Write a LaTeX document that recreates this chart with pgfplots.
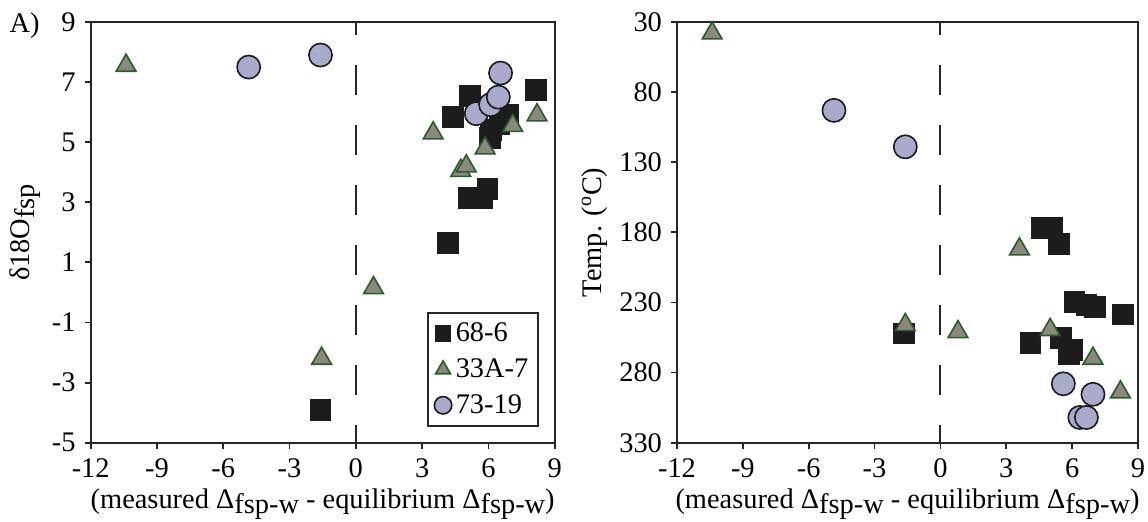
\documentclass[border=0pt]{standalone}
\usepackage{pgfplots}
\pgfplotsset{compat=1.18}
\usepackage{fontspec}
\setmainfont{Liberation Serif}
\definecolor{sqc}{HTML}{1C1C1C}
\definecolor{trifill}{HTML}{8A8A7C}
\definecolor{triedge}{HTML}{2C5A2C}
\definecolor{circfill}{HTML}{A9AACC}
\definecolor{circedge}{HTML}{1A1A1A}
\definecolor{axc}{HTML}{262626}
\newcommand{\fs}{\fontsize{14.2}{16.5}\selectfont}
\newcommand{\sub}[1]{\raisebox{-2.4pt}{#1}}
\pgfplotsset{
  myaxis/.style={
    scale only axis,
    height=210.35pt,
    xmin=-12, xmax=9, xtick={-12,-9,...,9},
    tick align=outside, xtick pos=left, ytick pos=left,
    major tick length=3pt,
    axis line style={line width=1pt, axc},
    every tick/.style={line width=0.9pt, axc},
    tick label style={font=\fs},
    xticklabel style={yshift=-1.5pt},
    yticklabel style={xshift=-1pt},
    label style={font=\fs},
    /pgf/number format/assume math mode=true,
    xlabel={(measured Δ\sub{fsp-w} - equilibrium Δ\sub{fsp-w})},
    xlabel style={yshift=1.5pt},
    clip=false,
  },
  sq/.style={only marks, mark=square*, mark size=5.2pt, mark options={fill=sqc, draw=sqc, line width=0.4pt}},
  tri/.style={only marks, mark=triangle*, mark size=5.7pt, mark options={fill=trifill, draw=triedge, line width=0.8pt}},
  circ/.style={only marks, mark=*, mark size=5.8pt, mark options={fill=circfill, draw=circedge, line width=0.8pt}},
  dashz/.style={line width=1pt, axc, dash pattern=on 15pt off 15pt, dash phase=6pt, forget plot},
}
\begin{document}
\begin{tikzpicture}
\useasboundingbox (-45.35pt,-39.15pt) rectangle (528.65pt,221.35pt);
\begin{axis}[myaxis, width=232pt, at={(0pt,0pt)}, anchor=south west,
  ymin=-5, ymax=9, ytick={-5,-3,...,9},
  ylabel={δ18O\sub{fsp}},
  ylabel style={yshift=-1pt},
  legend style={at={(axis cs:8.3,-4.48)}, anchor=south east, draw=axc, line width=0.9pt,
    font=\fs, inner xsep=3pt, inner ysep=3pt, row sep=3pt, cells={anchor=west}},
  legend image code/.code={\draw[mark repeat=2,mark phase=2, every mark/.append style={scale=0.75}] plot coordinates {(0cm,0cm) (0.25cm,0cm) (0.5cm,0cm)};},
]
\addplot[dashz] coordinates {(0,-5) (0,9)};
\addplot[sq] coordinates {
 (-1.6,-3.9) (4.15,1.65) (4.4,5.85) (5.15,6.55) (8.15,6.75) (6.9,5.9)
 (6.5,5.6) (6.1,5.4) (6.05,5.15) (5.1,3.15) (5.7,3.15) (5.95,3.45)
};
\addlegendentry{68-6}
\addplot[tri] coordinates {
 (-10.4,7.55) (-1.55,-2.2) (0.8,0.15) (3.5,5.3) (4.75,4.05) (5.0,4.2)
 (5.85,4.8) (7.1,5.55) (8.2,5.9)
};
\addlegendentry{33A-7}
\addplot[circ] coordinates {
 (-4.85,7.5) (-1.6,7.9) (5.45,5.95) (6.1,6.25) (6.45,6.5) (6.55,7.3)
};
\addlegendentry{73-19}
\node[font=\fs, anchor=north east] at ([xshift=-22pt, yshift=8pt]rel axis cs:0,1) {A)};
\end{axis}
\begin{axis}[myaxis, width=230.5pt, at={(293.15pt,0pt)}, anchor=south west,
  ymin=30, ymax=330, y dir=reverse, ytick={30,80,...,330},
  ylabel={Temp. (\textsuperscript{o}C)},
  ylabel style={yshift=-1pt},
]
\addplot[dashz] coordinates {(0,330) (0,30)};
\addplot[sq] coordinates {
 (-1.65,252) (4.1,259) (4.6,177) (5.1,177) (5.4,188) (6.1,229.5) (6.65,231.5)
 (7.05,233) (8.3,238.5) (5.5,255) (6.0,264) (5.85,267)
};
\addplot[tri] coordinates {
 (-10.4,38) (-1.6,246) (0.8,251) (3.6,192) (5.0,249.5) (6.95,270) (8.2,294)
};
\addplot[circ] coordinates {
 (-4.85,93) (-1.6,119) (5.6,288) (6.95,295.5) (6.35,312) (6.65,312)
};
\end{axis}
\end{tikzpicture}
\end{document}
